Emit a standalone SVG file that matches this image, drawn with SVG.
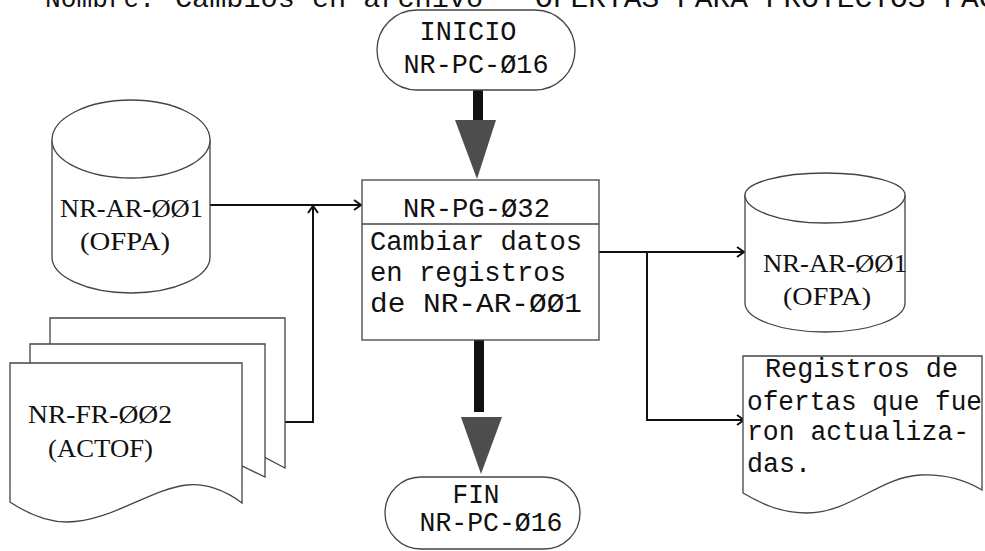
<svg xmlns="http://www.w3.org/2000/svg" width="985" height="551" viewBox="0 0 985 551">
<style>
.bg{fill:#fff}
.shape{fill:#fff;stroke:#444;stroke-width:1.3}
.mono{font-family:"Liberation Mono","DejaVu Sans Mono",monospace;font-size:27px;fill:#111}
.serif{font-family:"Liberation Serif","DejaVu Serif",serif;font-size:25px;fill:#111}
.conn{fill:none;stroke:#111;stroke-width:2}
.shaft{fill:#111}
.head{fill:#4d4d4d}
</style>
<defs>
<marker id="chev" viewBox="-9 -7 11 14" refX="0" refY="0" markerWidth="11" markerHeight="14" markerUnits="userSpaceOnUse" orient="auto">
<path d="M-7,-5 L0,0 L-7,5" fill="none" stroke="#111" stroke-width="2"/>
</marker>
</defs>
<rect class="bg" x="0" y="0" width="985" height="551"/>

<g id="header">
<text class="mono" x="45" y="7" font-size="28" textLength="110" lengthAdjust="spacingAndGlyphs">Nombre:</text>
<text class="mono" x="175" y="7" font-size="28" textLength="308" lengthAdjust="spacingAndGlyphs">Cambios en archivo</text>
<text class="mono" x="535" y="7" font-size="29" textLength="497" lengthAdjust="spacingAndGlyphs">OFERTAS PARA PROYECTOS FACCI</text>
</g>

<g id="connectors">
<line class="conn" x1="210" y1="205" x2="361" y2="205" marker-end="url(#chev)"/>
<polyline class="conn" points="285,422 313,422 313,206" marker-end="url(#chev)"/>
<line class="conn" x1="599" y1="252" x2="744" y2="252" marker-end="url(#chev)"/>
<polyline class="conn" points="647,252 647,420 744,420" marker-end="url(#chev)"/>
<rect class="shaft" x="473" y="90" width="10" height="32"/>
<polygon class="head" points="455,120 496,120 477,179"/>
<rect class="shaft" x="474" y="340" width="10" height="72"/>
<polygon class="head" points="461,417 502,417 481,474"/>
</g>

<g id="inicio">
<rect class="shape" x="377" y="10" width="198" height="80" rx="40" ry="40"/>
<text class="mono" x="468" y="40" text-anchor="middle" textLength="97" lengthAdjust="spacingAndGlyphs">INICIO</text>
<text class="mono" x="476" y="73" text-anchor="middle" textLength="145" lengthAdjust="spacingAndGlyphs">NR-PC-Ø16</text>
</g>

<g id="ofpa-in">
<path class="shape" d="M52,140 A79,40 0 0 1 210,140 L210,257 A79,36 0 0 1 52,257 Z"/>
<path class="shape" fill="none" d="M52,140 A79,38 0 0 0 210,140"/>
<text class="serif" x="60" y="217" textLength="143" lengthAdjust="spacingAndGlyphs">NR-AR-ØØ1</text>
<text class="serif" x="80" y="250" textLength="90" lengthAdjust="spacingAndGlyphs">(OFPA)</text>
</g>

<g id="actof">
<path class="shape" d="M50,318 L285,318 L285,468 L262,456 L50,456 Z"/>
<path class="shape" d="M30,344 L265,344 L265,477 L242,466 L30,466 Z"/>
<path class="shape" d="M10,363 L242,363 L242,503 C225,490 205,483 187,485 C150,489 110,522 67,522 C45,522 25,512 10,502 Z"/>
<text class="serif" x="28" y="423" textLength="144" lengthAdjust="spacingAndGlyphs">NR-FR-ØØ2</text>
<text class="serif" x="48" y="457" textLength="105" lengthAdjust="spacingAndGlyphs">(ACTOF)</text>
</g>

<g id="proceso">
<rect class="shape" x="362" y="180" width="237" height="160"/>
<line class="shape" x1="362" y1="224" x2="599" y2="224"/>
<text class="mono" x="403" y="217" textLength="147" lengthAdjust="spacingAndGlyphs">NR-PG-Ø32</text>
<text class="mono" x="370" y="250" textLength="212" lengthAdjust="spacingAndGlyphs">Cambiar datos</text>
<text class="mono" x="370" y="281" textLength="196" lengthAdjust="spacingAndGlyphs">en registros</text>
<text class="mono" x="370" y="312" textLength="212" lengthAdjust="spacingAndGlyphs">de NR-AR-ØØ1</text>
</g>

<g id="fin">
<rect class="shape" x="385" y="477" width="195" height="72" rx="36" ry="36"/>
<text class="mono" x="476" y="503" font-size="24" text-anchor="middle" textLength="47" lengthAdjust="spacingAndGlyphs">FIN</text>
<text class="mono" x="491" y="531" font-size="24" text-anchor="middle" textLength="143" lengthAdjust="spacingAndGlyphs">NR-PC-Ø16</text>
</g>

<g id="ofpa-out">
<path class="shape" d="M745,195 A80,22 0 0 1 905,195 L905,303 A80,29 0 0 1 745,303 Z"/>
<path class="shape" fill="none" d="M745,195 A80,28 0 0 0 905,195"/>
<text class="serif" x="763" y="272" textLength="144" lengthAdjust="spacingAndGlyphs">NR-AR-ØØ1</text>
<text class="serif" x="783" y="305" textLength="88" lengthAdjust="spacingAndGlyphs">(OFPA)</text>
</g>

<g id="registros">
<path class="shape" d="M743,356 L982,356 L982,490 C962,478 942,474 920,475 C880,477 850,513 807,513 C780,513 760,503 743,493 Z"/>
<text class="mono" x="765" y="377" textLength="193" lengthAdjust="spacingAndGlyphs">Registros de</text>
<text class="mono" x="747" y="410" textLength="235" lengthAdjust="spacingAndGlyphs">ofertas que fue</text>
<text class="mono" x="747" y="440" textLength="222" lengthAdjust="spacingAndGlyphs">ron actualiza-</text>
<text class="mono" x="747" y="472" textLength="64" lengthAdjust="spacingAndGlyphs">das.</text>
</g>
</svg>
